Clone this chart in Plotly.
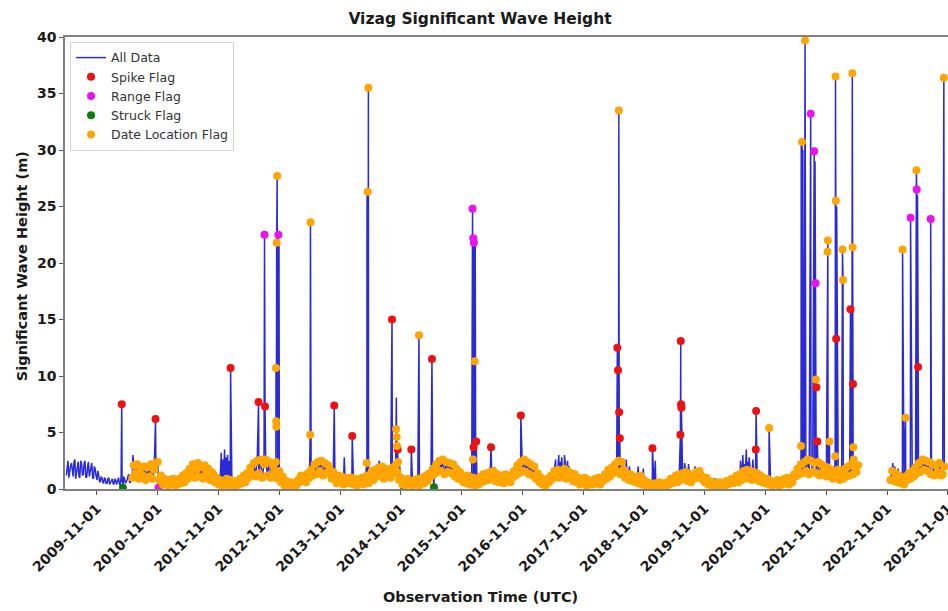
import pandas as pd
import numpy as np
import plotly.graph_objects as go

# ---------------- baseline Hs, sampled on days 1, 11, 21 of each month ----------------
hs_2009 = [1.2, 2.5, 1.7, 2.3, 1.1, 2.6, 1.5, 2.4, 1.0, 2.2, 1.3, 2.5,
           1.1, 2.4, 1.6, 2.3, 0.9, 1.8, 0.8, 1.3, 0.6, 1.0, 0.5, 0.9]          # from May
hs_2010 = [0.5, 1.0, 0.6, 0.9, 0.4, 0.8, 0.5, 1.0, 0.4, 0.7, 1.1, 0.5,
           0.8, 1.3, 0.6, 1.0, 2.1, 1.4, 2.2, 0.9, 1.8, 1.2, 2.0, 0.8,
           1.9, 1.1, 2.2, 0.9, 1.7, 2.3, 2.4, 0.8, 1.2, 0.4, 0.9, 0.5]
hs_2011 = [0.3, 0.8, 0.5, 0.9, 0.3, 0.6, 0.4, 0.9, 0.5, 1.2, 0.6, 1.4,
           0.9, 1.8, 1.2, 2.2, 1.0, 1.7, 2.3, 1.1, 1.9, 0.9, 2.1, 1.4,
           1.8, 0.8, 1.5, 1.3, 0.6, 1.0, 0.4, 0.8, 0.3, 0.7, 0.4, 0.9]
hs_2012 = [0.3, 0.8, 0.4, 0.7, 0.2, 0.6, 0.4, 0.9, 0.5, 1.2, 0.6, 1.4,
           1.0, 1.9, 1.3, 2.3, 1.1, 2.5, 1.4, 2.6, 1.0, 2.2, 2.6, 1.2,
           2.4, 1.0, 2.1, 1.5, 2.4, 0.9, 1.6, 0.6, 1.1, 0.3, 0.7, 0.2]
hs_2013 = [0.3, 0.6, 0.2, 0.5, 0.3, 0.8, 0.6, 1.2, 0.7, 1.1, 0.6, 1.4,
           1.0, 1.7, 1.2, 2.2, 1.3, 2.4, 1.6, 2.5, 1.2, 2.3, 1.4, 2.1,
           1.7, 0.9, 1.5, 1.0, 0.5, 1.2, 0.6, 1.1, 0.4, 0.9, 0.5, 1.0]
hs_2014 = [0.5, 1.0, 0.4, 0.9, 0.3, 0.7, 0.5, 1.0, 0.4, 0.8, 1.2, 0.5,
           1.0, 1.6, 0.8, 1.7, 1.1, 1.9, 1.3, 2.0, 0.9, 1.8, 1.2, 1.6,
           1.0, 1.9, 1.4, 2.1, 1.5, 0.8, 1.0, 0.4, 0.8, 0.3, 0.9, 0.5]
hs_2015 = [0.6, 0.3, 0.8, 0.4, 0.9, 0.3, 0.6, 1.0, 0.5, 1.2, 0.7, 1.4,
           1.1, 1.8, 1.3, 2.2, 1.5, 2.5, 1.6, 2.6, 1.3, 2.4, 1.5, 2.3,
           1.4, 2.2, 1.1, 1.8, 0.9, 1.5, 1.3, 0.6, 1.0, 0.5, 1.2, 0.4]
hs_2016 = [0.4, 1.0, 0.3, 0.8, 0.4, 1.1, 0.6, 1.3, 0.7, 1.4, 0.8, 1.5,
           1.0, 1.6, 0.7, 1.3, 0.6, 1.2, 0.9, 0.5, 1.3, 0.7, 1.2, 0.6,
           1.0, 1.6, 1.2, 2.1, 1.4, 2.4, 1.6, 2.6, 1.5, 2.4, 1.3, 2.2]
hs_2017 = [1.2, 2.0, 0.9, 1.4, 0.6, 1.0, 0.4, 0.8, 0.3, 0.9, 0.6, 1.2,
           0.9, 1.6, 1.1, 1.7, 1.0, 1.5, 1.2, 1.8, 0.9, 1.6, 1.0, 1.4,
           0.7, 1.3, 0.6, 1.0, 0.4, 0.9, 0.5, 1.0, 0.3, 0.8, 0.4, 0.7]
hs_2018 = [0.4, 0.9, 0.5, 1.0, 0.4, 0.8, 0.7, 1.3, 0.9, 1.7, 1.1, 1.9,
           1.4, 2.2, 1.6, 2.5, 1.3, 2.4, 1.7, 1.0, 1.4, 0.8, 1.3, 0.7,
           1.1, 0.6, 1.0, 0.5, 1.2, 0.4, 0.8, 0.3, 0.6, 0.2, 0.5, 0.3]
hs_2019 = [0.2, 0.5, 0.3, 0.6, 0.2, 0.4, 0.5, 0.2, 0.6, 0.4, 0.9, 0.5,
           0.7, 1.2, 0.6, 1.3, 0.8, 1.4, 0.9, 1.5, 0.7, 1.3, 0.6, 1.1,
           0.9, 1.5, 1.0, 1.6, 1.2, 0.8, 0.6, 1.0, 0.4, 0.7, 0.3, 0.6]
hs_2020 = [0.2, 0.5, 0.3, 0.6, 0.2, 0.4, 0.3, 0.7, 0.4, 0.6, 0.9, 0.5,
           0.7, 1.2, 0.6, 1.3, 0.8, 1.6, 1.0, 1.7, 0.9, 1.6, 0.8, 1.5,
           1.0, 1.4, 0.7, 1.2, 0.6, 1.0, 0.5, 0.9, 0.4, 0.7, 0.3, 0.6]
hs_2021 = [0.4, 0.8, 0.3, 0.7, 0.4, 0.9, 0.5, 1.0, 0.4, 0.9, 0.6, 1.3,
           1.1, 1.8, 1.3, 2.2, 1.4, 2.4, 1.6, 2.6, 1.3, 2.5, 1.5, 2.3,
           1.4, 2.4, 1.2, 2.2, 1.5, 2.0, 1.1, 1.9, 1.3, 1.7, 0.9, 1.5]
hs_2022 = [1.0, 1.7, 0.8, 1.5, 0.9, 1.8, 1.1, 2.0, 1.2, 2.2, 1.3, 2.0,
           1.5, 2.1, None, None, None, None, None, None, None, None, None, None,
           None, None, None, None, None, None, None, None, 0.8, 1.6, 0.7, 1.4]
hs_2023 = [0.6, 1.2, 0.5, 1.0, 0.4, 1.1, 0.8, 1.4, 0.9, 1.6, 1.1, 1.9,
           1.4, 2.3, 1.5, 2.6, 1.7, 2.5, 1.6, 2.4, 1.3, 2.2, 1.2, 2.1,
           1.5, 2.3, 1.2, 1.3, 2.0]
# extra early samples on days 6, 16, 26 (May 2009 - May 2010, unflagged period)
hs_early_mid = [2.2, 1.0, 2.0, 1.3, 2.4, 0.9, 2.1, 1.1, 2.5, 1.2, 2.3, 1.0,
                2.0, 1.1, 2.2, 1.0, 2.0, 1.2, 1.6, 0.7, 1.1, 0.6, 1.0, 0.5,
                0.9, 0.4, 0.8, 0.5, 0.9, 0.4, 0.8, 0.4, 1.0, 0.5, 0.9, 0.6,
                1.1, 0.6, 1.2]
baseline_rows = [(2009, 5, hs_2009), (2010, 1, hs_2010), (2011, 1, hs_2011), (2012, 1, hs_2012),
                 (2013, 1, hs_2013), (2014, 1, hs_2014), (2015, 1, hs_2015), (2016, 1, hs_2016),
                 (2017, 1, hs_2017), (2018, 1, hs_2018), (2019, 1, hs_2019), (2020, 1, hs_2020),
                 (2021, 1, hs_2021), (2022, 1, hs_2022), (2023, 1, hs_2023)]
date_location_from = "2010-06-01"   # baseline flagged by the date/location test from here on

# ---------------- spike events (S = spike, R = range, T = struck, D = date/location, N = none) ----
event_dates = [
    "2010-03-30", "2010-10-19", "2012-01-13", "2012-06-29", "2012-08-04", "2012-08-07",
    "2012-10-12", "2012-10-13", "2012-10-14", "2012-10-16", "2012-10-17", "2012-10-19",
    "2012-10-20", "2012-10-22", "2012-10-24", "2012-10-26", "2012-10-28", "2012-10-30",
    "2013-05-05", "2013-05-07", "2013-09-27", "2014-01-13",
    "2014-04-10", "2014-04-12", "2014-04-14", "2014-04-16", "2014-04-18", "2014-04-20",
    "2014-04-22", "2014-04-24", "2014-09-09",
    "2014-10-03", "2014-10-05", "2014-10-07", "2014-10-09", "2014-10-13", "2014-10-15",
    "2015-01-03", "2015-02-18", "2015-05-07",
    "2016-01-06", "2016-01-08", "2016-01-10", "2016-01-12", "2016-01-14", "2016-01-16",
    "2016-01-19", "2016-01-22", "2016-01-25", "2016-01-28", "2016-01-30",
    "2016-04-26", "2016-10-22",
    "2018-05-25", "2018-05-27", "2018-05-29", "2018-05-31", "2018-06-03", "2018-06-05",
    "2018-06-07", "2018-06-09", "2018-12-22",
    "2019-06-08", "2019-06-10", "2019-06-12", "2019-06-14",
    "2020-09-03", "2020-09-05", "2020-11-22",
    "2021-06-02", "2021-06-03", "2021-06-05", "2021-06-08", "2021-06-10", "2021-06-13",
    "2021-06-16", "2021-06-26",
    "2021-07-30", "2021-08-20", "2021-08-22", "2021-08-25", "2021-08-28", "2021-08-30",
    "2021-09-02", "2021-09-05", "2021-09-08",
    "2021-11-08", "2021-11-10", "2021-11-13", "2021-11-20",
    "2021-12-24", "2021-12-26", "2021-12-28", "2021-12-30", "2022-01-02",
    "2022-02-06", "2022-02-09",
    "2022-03-26", "2022-03-29", "2022-03-31", "2022-04-03", "2022-04-06", "2022-04-08",
    "2022-04-10", "2022-04-12", "2022-04-14",
    "2023-02-02", "2023-02-20", "2023-03-22",
    "2023-04-26", "2023-04-28", "2023-04-30", "2023-05-03", "2023-05-06", "2023-05-09",
    "2023-07-21", "2023-10-08",
]
event_values = [
    7.5, 6.2, 10.7, 7.7, 22.5, 7.3,
    10.7, 6.0, 5.5, 21.8, 1.5, 27.7,
    1.2, 21.6, 2.0, 22.5, 1.5, 21.5,
    4.8, 23.6, 7.4, 4.7,
    2.3, 26.0, 1.0, 26.3, 1.2, 35.5,
    26.2, 1.0, 15.0,
    5.3, 8.1, 4.6, 3.8, 3.5, 2.4,
    3.5, 13.6, 11.5,
    24.8, 2.6, 22.2, 3.7, 21.8, 1.5,
    11.3, 22.0, 1.2, 4.2, 1.2,
    3.7, 6.5,
    12.5, 1.5, 10.5, 2.0, 33.5, 6.8,
    1.8, 4.5, 3.6,
    4.8, 13.1, 7.5, 7.2,
    3.5, 6.9, 5.4,
    3.8, 30.5, 1.5, 30.7, 2.0, 30.0,
    1.5, 39.7,
    33.2, 29.9, 2.0, 29.0, 18.2, 9.7,
    9.0, 2.0, 4.2,
    21.0, 22.0, 1.5, 4.2,
    2.9, 36.5, 25.5, 13.3, 25.0,
    21.2, 18.5,
    15.9, 1.5, 15.5, 2.0, 36.8, 21.4,
    9.3, 3.7, 2.6,
    21.2, 6.3, 24.0,
    28.2, 26.5, 1.5, 26.0, 10.8, 1.8,
    23.9, 36.4,
]
event_flags = [
    "S", "S", "S", "S", "R", "S",
    "D", "D", "D", "D", "N", "D",
    "N", "N", "N", "R", "N", "N",
    "D", "D", "S", "S",
    "D", "N", "N", "D", "N", "D",
    "N", "N", "S",
    "D", "N", "D", "D", "S", "D",
    "S", "D", "S",
    "R", "D", "R", "S", "R", "N",
    "D", "N", "N", "S", "N",
    "S", "S",
    "S", "N", "S", "N", "D", "S",
    "N", "S", "S",
    "S", "S", "S", "S",
    "S", "S", "D",
    "D", "N", "N", "D", "N", "N",
    "N", "D",
    "R", "R", "N", "N", "R", "D",
    "S", "N", "S",
    "D", "D", "N", "D",
    "D", "D", "D", "S", "N",
    "D", "D",
    "S", "N", "N", "N", "D", "D",
    "S", "D", "D",
    "D", "D", "R",
    "D", "R", "N", "N", "S", "N",
    "R", "D",
]

# ---------------- unflagged blue excursions above the baseline ----------------
bump_dates = ["2010-06-05", "2011-05-15", "2011-11-18", "2011-11-28", "2011-12-08", "2011-12-16",
              "2011-12-26", "2012-01-05", "2013-11-26", "2014-06-24", "2014-07-15", "2014-10-20",
              "2014-10-25", "2016-05-19", "2017-05-19", "2017-06-07", "2017-06-16", "2017-06-25",
              "2017-07-11", "2017-07-17", "2017-07-30", "2017-08-08", "2018-07-18", "2018-08-05",
              "2018-09-28", "2018-10-28", "2019-01-08", "2019-07-03", "2019-07-15", "2019-07-27",
              "2019-09-03", "2020-06-03", "2020-06-17", "2020-06-26", "2020-07-08", "2020-07-15",
              "2020-07-25", "2020-08-16", "2022-12-05", "2022-12-16", "2023-01-06", "2023-07-14",
              "2023-07-26"]
bump_values = [3.0, 2.4, 3.2, 2.6, 3.5, 2.8,
               3.0, 2.5, 2.8, 2.5, 2.2, 2.5,
               2.0, 1.9, 2.6, 3.0, 2.4, 2.8,
               3.0, 2.2, 2.5, 2.0, 2.6, 2.0,
               2.0, 1.8, 2.5, 2.3, 1.8, 2.2,
               2.0, 2.5, 3.0, 2.2, 3.5, 2.4,
               2.8, 2.6, 2.3, 2.0, 1.8, 2.5,
               2.0]

# ---------------- near-zero flagged values ----------------
low_dates = ["2010-04-06", "2010-11-06", "2014-11-20", "2015-05-19", "2019-12-31"]
low_values = [0.1, 0.1, 0.15, 0.15, 0.6]
low_flags = ["T", "R", "T", "T", "T"]

# ---------------- assemble ----------------
days = [1, 11, 21]
mid_days = [6, 16, 26]
rows = []
for year, m0, vals in baseline_rows:
    for i, v in enumerate(vals):
        d = pd.Timestamp(year=year, month=m0 + i // 3, day=days[i % 3])
        flag = "D" if (v is not None and d >= pd.Timestamp(date_location_from)) else "N"
        rows.append((d, np.nan if v is None else v, flag))
for i, v in enumerate(hs_early_mid):
    k = 4 + i // 3                       # month index counted from Jan 2009
    d = pd.Timestamp(year=2009 + k // 12, month=k % 12 + 1, day=mid_days[i % 3])
    rows.append((d, v, "N"))
base = pd.DataFrame(rows, columns=["t", "hs", "flag"])
events = pd.DataFrame({"t": pd.to_datetime(event_dates), "hs": event_values, "flag": event_flags})
bumps = pd.DataFrame({"t": pd.to_datetime(bump_dates), "hs": bump_values, "flag": "N"})
lows = pd.DataFrame({"t": pd.to_datetime(low_dates), "hs": low_values, "flag": low_flags})
df = pd.concat([base, events, bumps, lows], ignore_index=True).sort_values("t", kind="stable")

FONT = "DejaVu Sans"
fig = go.Figure()
fig.add_trace(go.Scatter(x=df["t"], y=df["hs"], mode="lines", name="All Data",
                         line=dict(color="#2a2ad6", width=1.5), connectgaps=False))
for code, name, color in [("S", "Spike Flag", "#f01010"), ("R", "Range Flag", "#ee10ee"),
                          ("T", "Struck Flag", "#0a7d0a"), ("D", "Date Location Flag", "#FFA500")]:
    sub = df[df["flag"] == code]
    fig.add_trace(go.Scatter(x=sub["t"], y=sub["hs"], mode="markers", name=name,
                             marker=dict(color=color, size=8, line=dict(width=0))))

fig.update_layout(
    width=948, height=611,
    margin=dict(l=65, r=0, t=37, b=122, autoexpand=False),
    paper_bgcolor="white", plot_bgcolor="white",
    font=dict(family=FONT, color="#1a1a1a"),
    title=dict(text="Vizag Significant Wave Height", x=0.47, xref="paper", xanchor="center",
               y=1 - 19 / 611, yref="container", yanchor="middle",
               font=dict(family=FONT, size=15.5, weight="bold", color="#1a1a1a")),
    showlegend=True,
    legend=dict(x=0.0057, y=0.989, xanchor="left", yanchor="top",
                bgcolor="rgba(255,255,255,0.85)", bordercolor="#d4d4d4", borderwidth=1,
                font=dict(family=FONT, size=12.5, color="#333"), tracegroupgap=0),
    xaxis=dict(type="date", range=["2009-04-23", "2023-11-02"], tick0="2009-11-01", dtick="M12",
               tickformat="%Y-%m-%d", tickangle=-45, ticks="outside", ticklen=4, tickcolor="#555",
               ticklabeloverflow="allow", automargin=False,
               showline=True, linecolor="#808080", linewidth=1.5, mirror=True, showgrid=False,
               zeroline=False, tickfont=dict(family=FONT, size=14, weight="bold", color="#1a1a1a")),
    yaxis=dict(range=[0, 40], dtick=5, ticks="outside", ticklen=4, tickcolor="#555", automargin=False,
               showline=True, linecolor="#808080", linewidth=1.5, showgrid=False, zeroline=False,
               tickfont=dict(family=FONT, size=14, weight="bold", color="#1a1a1a")),
    annotations=[
        dict(text="Observation Time (UTC)", xref="paper", yref="paper", x=0.47, y=-0.239,
             xanchor="center", yanchor="middle", showarrow=False,
             font=dict(family=FONT, size=14.5, weight="bold", color="#1a1a1a")),
        dict(text="Significant Wave Height (m)", xref="paper", yref="paper", x=-0.0487, y=0.493,
             xanchor="center", yanchor="middle", textangle=-90, showarrow=False,
             font=dict(family=FONT, size=14.5, weight="bold", color="#1a1a1a")),
    ],
)
fig.write_html("out.html")
